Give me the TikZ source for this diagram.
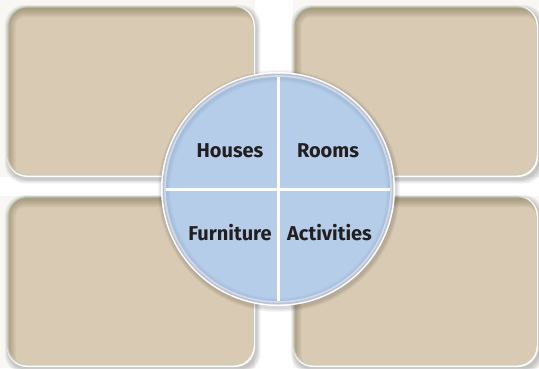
\documentclass[tikz,border=0pt]{standalone}
\usepackage{fontspec}
\setsansfont{Fira Sans}
\usetikzlibrary{calc}
\definecolor{bgcol}{HTML}{F8F7F4}
\definecolor{tancol}{HTML}{D9CAB3}
\definecolor{bordcol}{HTML}{C3CEBB}
\definecolor{shadowcol}{HTML}{7E7656}
\definecolor{discblue}{HTML}{B5CDE9}
\definecolor{ringout}{HTML}{BAC4D6}
\definecolor{ringin}{HTML}{D3DAE6}
\definecolor{discshadow}{HTML}{7F9BC2}
\definecolor{txt}{HTML}{231F20}
\begin{document}
\begin{tikzpicture}[x=1pt,y=-1pt,
  lbl/.style={font=\sffamily\bfseries\fontsize{20}{24}\selectfont, text=txt, inner sep=0pt, anchor=base}]
\useasboundingbox (0,0) rectangle (539,368);
\fill[bgcol] (0,0) rectangle (539,368);
% gaps between the boxes
\fill[white] (255,0) rectangle (293,368);
\fill[white] (0,177) rectangle (539,196);
% the four boxes
\foreach \a/\b/\c/\d in {7/6/255/177, 293/6/538/177, 7/196/255/367, 293/196/538/367} {
  \foreach \k in {0,1,2,3,4} {
    \fill[black, opacity=0.045, rounded corners=20pt]
      (\a+1-\k*0.8, \b+2-\k*0.8) rectangle (\c+2+\k*0.9, \d+3+\k*0.9);
  }
  \fill[white, rounded corners=20pt] (\a,\b) rectangle (\c,\d);
  \fill[bordcol, rounded corners=20pt] (\a,\b) rectangle (\c-1.5,\d-1.5);
  \fill[tancol, rounded corners=19pt] (\a+1.5,\b+1.5) rectangle (\c-1.5,\d-2.5);
  \begin{scope}
    \clip[rounded corners=19pt] (\a+1.5,\b+1.5) rectangle (\c-1.5,\d-2.5);
    \foreach \w in {2,5,8,11,14,17,20} {
      \draw[shadowcol, opacity=0.11, line width=\w pt, rounded corners=19pt]
        (\a-1.5,\b+1) rectangle (\c+8,\d+8);
    }
  \end{scope}
}
% the disc
\coordinate (c) at (278,189);
\foreach \k in {0,1,2,3} {
  \fill[black, opacity=0.04] ($(c)+(1,2)$) circle ({118+\k});
}
\fill[white] (c) circle (117);
\fill[ringout] (c) circle (115.5);
\fill[ringin] (c) circle (113.8);
\fill[discblue] (c) circle (112);
\begin{scope}
  \clip (c) circle (112);
  \foreach \w in {2,4,6,8} {
    \draw[discshadow, opacity=0.08, line width=\w pt] ($(c)+(0.5,1)$) circle (112);
  }
\end{scope}
\draw[white, line width=3pt] ($(c)+(0,-112)$) -- ($(c)+(0,112)$);
\draw[white, line width=3pt] ($(c)+(-112,0)$) -- ($(c)+(112,0)$);
\node[lbl] (houses) at (230,157) {Houses};
\node[lbl] (rooms) at (328,157) {Rooms};
\node[lbl] (furniture) at (230,240.5) {Furniture};
\node[lbl] (activities) at (329.5,240.5) {Activities};
\end{tikzpicture}
\end{document}
